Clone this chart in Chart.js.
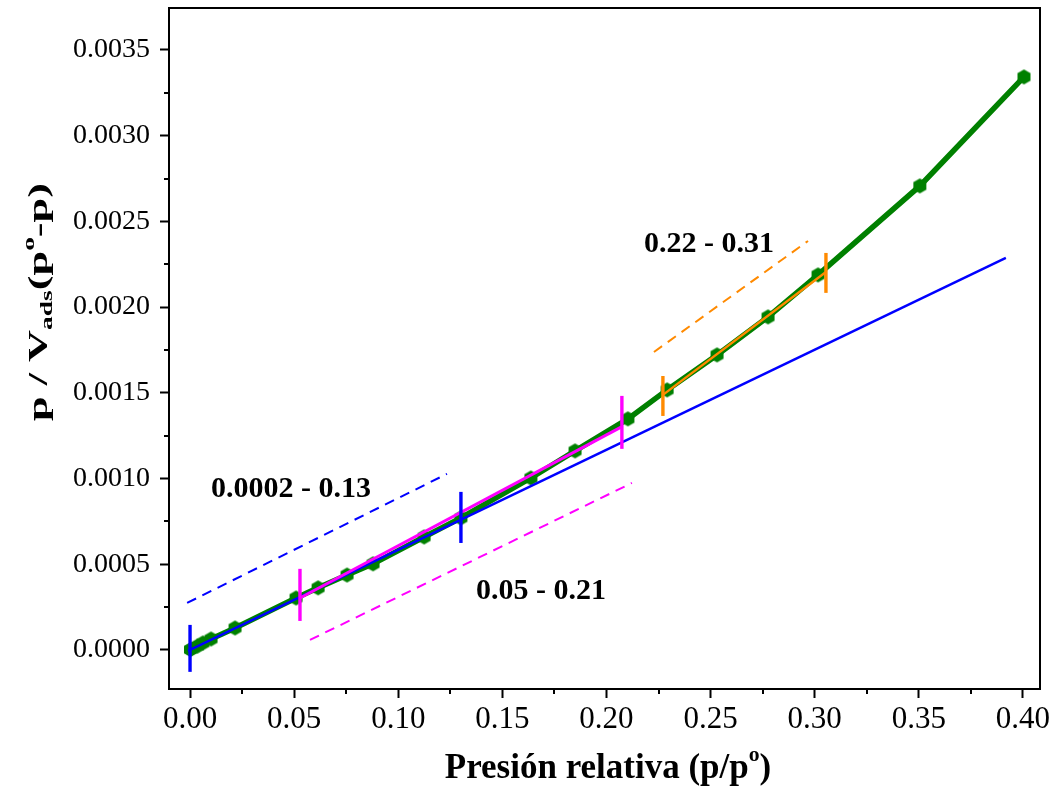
<!DOCTYPE html>
<html>
<head>
<meta charset="utf-8">
<script src="https://cdn.jsdelivr.net/npm/chart.js@4.4.1/dist/chart.umd.min.js"></script>
<style>
  html, body { margin: 0; padding: 0; background: #fff; }
  #wrap { width: 1055px; height: 791px; }
</style>
</head>
<body>
<div id="wrap"><canvas id="c" width="1055" height="791"></canvas></div>
<script>
// ---- Data ----
const presionX = [0.0002, 0.0035, 0.0062, 0.0101, 0.0216, 0.0509, 0.0615, 0.0754, 0.0879, 0.1124, 0.1301, 0.1637, 0.1849, 0.2103, 0.2291, 0.2531, 0.2776, 0.3016, 0.3505, 0.4005];
const betY     = [0.000002, 0.000022, 0.000041, 0.000064, 0.000128, 0.000303, 0.000362, 0.000437, 0.000502, 0.000659, 0.000770, 0.001003, 0.001161, 0.001348, 0.001517, 0.001721, 0.001943, 0.002188, 0.002707, 0.003343];

// fit lines (start/end points)
const fitBlueX = [-0.001, 0.3918];      const fitBlueY = [-0.000006, 0.002287];
const fitMagX  = [0.0528, 0.2070];      const fitMagY  = [0.000303, 0.001300];
const fitOrX   = [0.2271, 0.3054];      const fitOrY   = [0.001488, 0.002205];

// range limit marks (vertical segments): x, yLow, yHigh
const limBlue = [[0.0000, -0.000128, 0.000146], [0.1301, 0.000624, 0.000922]];
const limMag  = [[0.0528, 0.000169, 0.000473], [0.2074, 0.001173, 0.001482]];
const limOr   = [[0.2271, 0.001365, 0.001598], [0.3054, 0.002083, 0.002316]];

// dashed guide lines
const dashBlueX = [-0.0014, 0.1234];    const dashBlueY = [0.000274, 0.001027];
const dashMagX  = [0.0576, 0.2122];     const dashMagY  = [0.0000583, 0.000974];
const dashOrX   = [0.2228, 0.2968];     const dashOrY   = [0.001738, 0.002386];

// range labels
const rangeLabels = ['0.0002 - 0.13', '0.05 - 0.21', '0.22 - 0.31'];
const rangeLabelX = [0.0485, 0.1685, 0.2492];
const rangeLabelY = [0.000893, 0.000297, 0.002322];

// axis ticks
const xTickStep = 0.05, yTickStep = 0.0005;
const xTitle = [{t: 'Presión relativa (p/p'}, {t: 'o', sup: true}, {t: ')'}];
const yTitle = [{t: 'p / V'}, {t: 'ads', sub: true}, {t: '(p'}, {t: 'o', sup: true}, {t: '-p)'}];

// ---- helpers ----
const pts = (xs, ys) => xs.map((x, i) => ({x, y: ys[i]}));
const GREEN = '#008000', BLUE = '#0000ff', MAG = '#ff00ff', ORANGE = '#ff8a00';

function hexagon(r, color) {
  const c = document.createElement('canvas');
  const s = Math.ceil(r * 2 + 2);
  c.width = s; c.height = s;
  const g = c.getContext('2d');
  g.fillStyle = color;
  g.beginPath();
  for (let i = 0; i < 6; i++) {
    const a = Math.PI / 2 + i * Math.PI / 3;
    const px = s / 2 + r * Math.cos(a), py = s / 2 + r * Math.sin(a);
    if (i === 0) g.moveTo(px, py); else g.lineTo(px, py);
  }
  g.closePath(); g.fill();
  return c;
}
const hexImg = hexagon(7.5, GREEN);

function segDataset(p, color, width, order, dash) {
  return {
    type: 'line', data: p, borderColor: color, borderWidth: width,
    pointRadius: 0, fill: false, tension: 0, order: order,
    borderDash: dash || [], showLine: true
  };
}

const datasets = [];
datasets.push({
  type: 'line', data: pts(presionX, betY), borderColor: GREEN, borderWidth: 5.5,
  pointStyle: hexImg, pointRadius: 7.5, pointHoverRadius: 7.5,
  backgroundColor: GREEN, fill: false, tension: 0, order: 10
});
datasets.push(segDataset(pts(fitBlueX, fitBlueY), BLUE, 2.5, 2));
datasets.push(segDataset(pts(fitMagX, fitMagY), MAG, 3, 1));
datasets.push(segDataset(pts(fitOrX, fitOrY), ORANGE, 2.4, 1));
[[limBlue, BLUE], [limMag, MAG], [limOr, ORANGE]].forEach(([lims, col]) => {
  lims.forEach(l => datasets.push(segDataset([{x: l[0], y: l[1]}, {x: l[0], y: l[2]}], col, 3.4, 0)));
});
datasets.push(segDataset(pts(dashBlueX, dashBlueY), BLUE, 2, 3, [10, 7]));
datasets.push(segDataset(pts(dashMagX, dashMagY), MAG, 2, 3, [10, 7]));
datasets.push(segDataset(pts(dashOrX, dashOrY), ORANGE, 2, 3, [10, 7]));

function richWidth(ctx, segs, size, family) {
  let w = 0;
  segs.forEach(s => {
    const fs = (s.sub || s.sup) ? size * 0.62 : size;
    ctx.font = 'bold ' + fs + 'px ' + family;
    w += ctx.measureText(s.t).width;
  });
  return w;
}
function drawRich(ctx, segs, x0, y0, size, family) {
  let x = x0;
  segs.forEach(s => {
    const fs = (s.sub || s.sup) ? size * 0.62 : size;
    ctx.font = 'bold ' + fs + 'px ' + family;
    const dy = s.sub ? size * 0.2 : (s.sup ? -size * 0.48 : 0);
    ctx.fillText(s.t, x, y0 + dy);
    x += ctx.measureText(s.t).width;
  });
}

const decorPlugin = {
  id: 'decor',
  afterDraw(chart) {
    const ctx = chart.ctx, a = chart.chartArea;
    const xs = chart.scales.x, ys = chart.scales.y;
    ctx.save();
    // frame
    ctx.strokeStyle = '#000'; ctx.lineWidth = 2;
    ctx.strokeRect(a.left, a.top, a.right - a.left, a.bottom - a.top);
    // minor ticks
    ctx.lineWidth = 2;
    ctx.beginPath();
    for (let v = xTickStep / 2; v <= xs.max; v += xTickStep) {
      const p = Math.round(xs.getPixelForValue(v));
      ctx.moveTo(p, a.bottom); ctx.lineTo(p, a.bottom + 5);
    }
    for (let v = yTickStep / 2; v <= ys.max; v += yTickStep) {
      const p = Math.round(ys.getPixelForValue(v));
      ctx.moveTo(a.left, p); ctx.lineTo(a.left - 5, p);
    }
    ctx.stroke();
    // range labels
    ctx.fillStyle = '#000';
    ctx.textAlign = 'center'; ctx.textBaseline = 'alphabetic';
    ctx.font = 'bold 30px "Liberation Serif"';
    rangeLabels.forEach((t, i) => {
      ctx.fillText(t, xs.getPixelForValue(rangeLabelX[i]), ys.getPixelForValue(rangeLabelY[i]));
    });
    // x title
    ctx.textAlign = 'left';
    const fam = '"Liberation Serif"';
    const wx = richWidth(ctx, xTitle, 35, fam);
    drawRich(ctx, xTitle, 608 - wx / 2, 778, 35, fam);
    // y title (rotated, stretched along its length like the reference)
    const wy = richWidth(ctx, yTitle, 27, fam);
    const targetLen = 238;
    ctx.translate(47, 302);
    ctx.rotate(-Math.PI / 2);
    ctx.scale(targetLen / wy, 1);
    drawRich(ctx, yTitle, -wy / 2, 0, 27, fam);
    ctx.restore();
  }
};

Chart.defaults.color = '#000';
Chart.defaults.font.family = '"Liberation Serif"';

new Chart(document.getElementById('c'), {
  type: 'line',
  data: { datasets },
  options: {
    responsive: false, animation: false, devicePixelRatio: 1,
    layout: { autoPadding: false, padding: { left: 0, right: 15, top: 8, bottom: 0 } },
    plugins: { legend: { display: false }, tooltip: { enabled: false } },
    scales: {
      x: {
        type: 'linear', min: -0.0101, max: 0.4082,
        afterFit(s) { s.height = 102; s.paddingLeft = 0; s.paddingRight = 0; },
        ticks: {
          stepSize: xTickStep, includeBounds: false, autoSkip: false, maxRotation: 0,
          font: { size: 31 }, color: '#000', padding: 3,
          callback: v => Math.abs(v) < 1e-9 ? '0.00' : v.toFixed(2)
        },
        grid: { drawOnChartArea: false, drawTicks: true, tickLength: 9, tickWidth: 2, tickColor: '#000' },
        border: { display: false }
      },
      y: {
        type: 'linear', min: -0.000228, max: 0.003745,
        afterFit(s) { s.width = 169; s.paddingTop = 0; s.paddingBottom = 0; },
        ticks: {
          stepSize: yTickStep, includeBounds: false, autoSkip: false,
          font: { size: 28, lineHeight: 0.5 }, color: '#000', padding: 10,
          callback: v => Math.abs(v) < 1e-9 ? '0.0000' : v.toFixed(4)
        },
        grid: { drawOnChartArea: false, drawTicks: true, tickLength: 9, tickWidth: 2, tickColor: '#000' },
        border: { display: false }
      }
    }
  },
  plugins: [decorPlugin]
});
</script>
</body>
</html>
